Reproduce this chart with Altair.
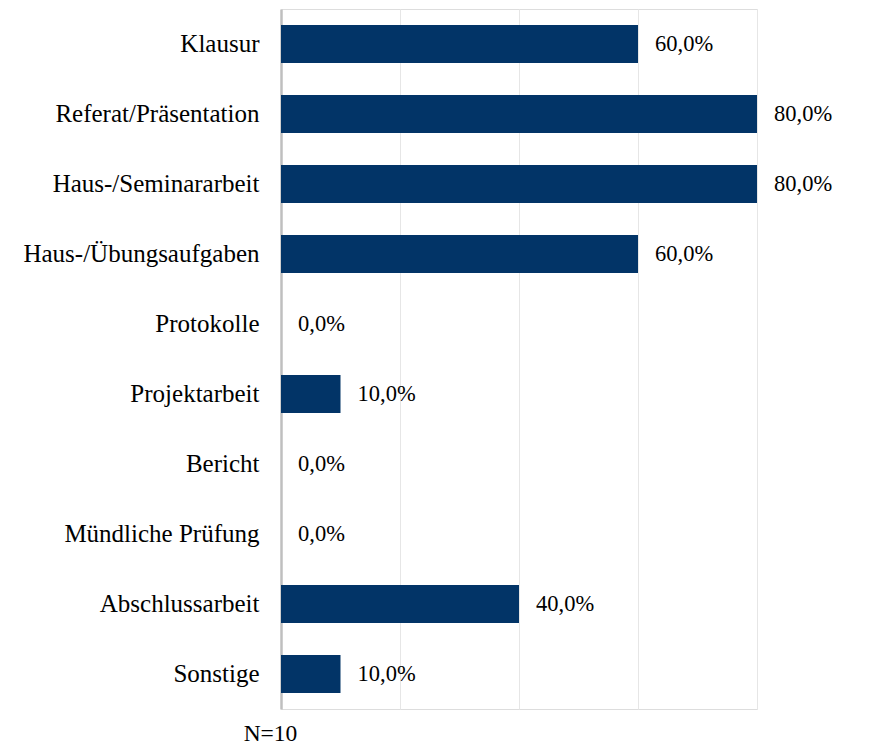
import altair as alt
import pandas as pd

categories = ["Klausur", "Referat/Präsentation", "Haus-/Seminararbeit", "Haus-/Übungsaufgaben",
              "Protokolle", "Projektarbeit", "Bericht", "Mündliche Prüfung", "Abschlussarbeit", "Sonstige"]
values = [0.60, 0.80, 0.80, 0.60, 0.0, 0.10, 0.0, 0.0, 0.40, 0.10]
x_ticks = [0.2, 0.4, 0.6, 0.8]
note = "N=10"

df = pd.DataFrame({"cat": categories, "val": values})
df["label"] = [f"{v*100:.1f}%".replace(".", ",") for v in values]

FONT = "'Times New Roman', 'Liberation Serif', Times, serif"

x = alt.X("val:Q", scale=alt.Scale(domain=[0, 0.8], nice=False),
          axis=alt.Axis(values=x_ticks, grid=True, labels=False, ticks=False, domain=False,
                        title=note, titleFont=FONT, titleFontSize=23.5, titleFontWeight="normal",
                        titleColor="#000000", titleX=-11, titleY=31, titleAlign="center",
                        titleBaseline="alphabetic", gridColor="#e6e6e6", gridWidth=1))
y = alt.Y("cat:N", sort=categories, scale=alt.Scale(paddingInner=0, paddingOuter=0),
          axis=alt.Axis(title=None, ticks=False, labelFont=FONT, labelFontSize=25,
                        labelColor="#000000", labelPadding=22, domain=True,
                        domainColor="#bfbfbf", domainWidth=2.5, labelLimit=400))

bars = alt.Chart(df).mark_bar(color="#023467", size=38).encode(x=x, y=y)
text = alt.Chart(df).mark_text(align="left", baseline="middle", dx=17, font=FONT,
                               fontSize=22.5, color="#000000").encode(
    x=alt.X("val:Q"), y=alt.Y("cat:N", sort=categories), text="label:N")

chart = (bars + text).properties(
    width=476, height=700,
    padding={"left": 14, "top": 1, "right": 5, "bottom": 5},
).configure_view(stroke=None).configure(background="white")

chart.save("out.html", embed_options={"renderer": "svg", "actions": False})
